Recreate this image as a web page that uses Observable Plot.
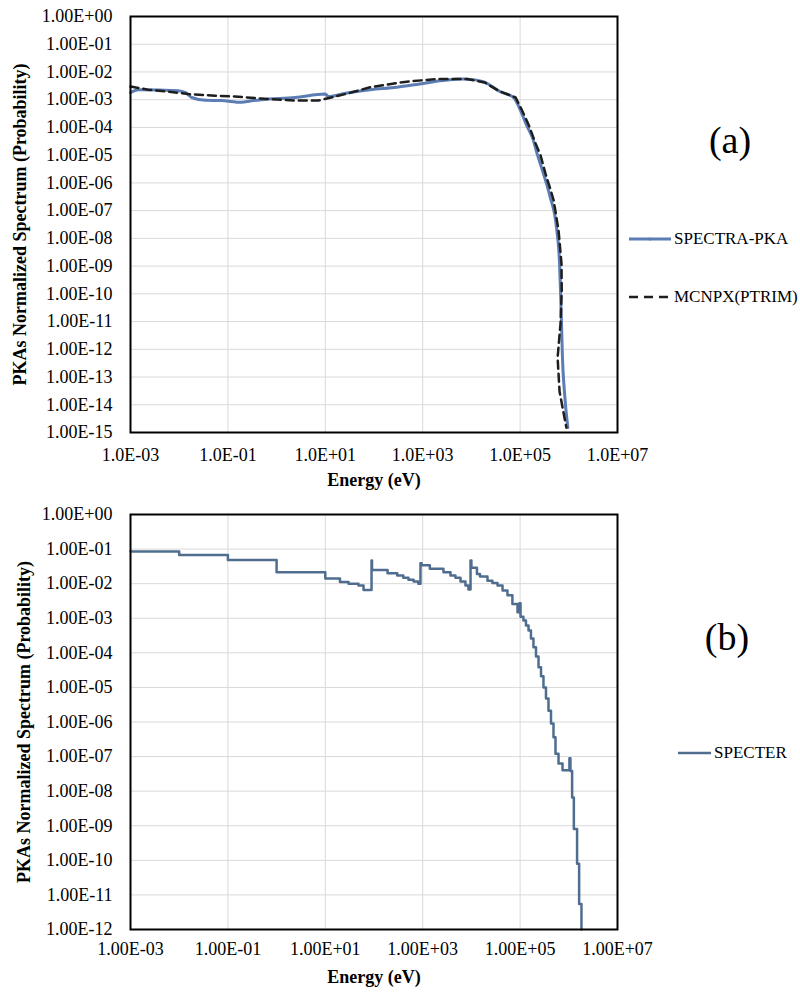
<!DOCTYPE html>
<html>
<head>
<meta charset="utf-8">
<script src="https://cdn.jsdelivr.net/npm/d3@7"></script>
<script src="https://cdn.jsdelivr.net/npm/@observablehq/plot@0.6"></script>
<style>
  body { margin: 0; background: #fff; }
  #wrap { position: relative; width: 800px; height: 992px; font-family: "Liberation Serif", "DejaVu Serif", "Times New Roman", serif; color: #000; }
  .panel { position: absolute; left: 0; }
  .panel svg text { font-family: "Liberation Serif", "DejaVu Serif", "Times New Roman", serif; }
  .leg { position: absolute; font-size: 17px; line-height: 18px; white-space: nowrap; display: flex; align-items: center; }
  .leg svg { display: block; margin-right: 3px; }
  .tag { position: absolute; font-size: 38px; line-height: 38px; transform: translate(-50%, -50%); }
</style>
</head>
<body>
<div id="wrap">
  <div class="panel" id="pa" style="top:0"></div>
  <div class="panel" id="pb" style="top:495px"></div>
  <div class="leg" style="left:629px; top:230px;">
    <svg width="42" height="18"><line x1="0" y1="9" x2="42" y2="9" stroke="#5b7db3" stroke-width="3"/><circle cx="21" cy="9" r="1.5" fill="#5b7db3"/></svg>SPECTRA-PKA
  </div>
  <div class="leg" style="left:629px; top:288px;">
    <svg width="42" height="18"><line x1="0" y1="9" x2="42" y2="9" stroke="#1e1e1e" stroke-width="2.5" stroke-dasharray="9,6"/></svg>MCNPX(PTRIM)
  </div>
  <div class="tag" style="left:730px; top:140px;">(a)</div>
  <div class="leg" style="left:678px; top:744px;">
    <svg width="33" height="18"><line x1="0" y1="9" x2="33" y2="9" stroke="#4f6d8f" stroke-width="2.5"/></svg>SPECTER
  </div>
  <div class="tag" style="left:727px; top:637px;">(b)</div>
</div>
<script>
// ---------- Panel (a) data ----------
const spectraE = [1e-3, 1.45e-3, 9.5e-3, 1.35e-2, 1.8e-2, 3.5e-2, 7.2e-2, 0.19, 0.29, 0.48, 2.4, 10, 11.5, 26, 83, 295, 870, 2570, 6600, 10700, 18600, 38000, 74000, 98000, 136000, 182000, 229000, 288000, 407000, 562000, 646000, 676000, 708000, 741000, 813000, 955000];
const spectraV = [1.8e-3, 2.3e-3, 2.1e-3, 1.8e-3, 1.2e-3, 9.5e-4, 9.3e-4, 8.1e-4, 9.0e-4, 1.0e-3, 1.2e-3, 1.6e-3, 1.3e-3, 1.7e-3, 2.3e-3, 2.8e-3, 3.7e-3, 4.9e-3, 5.6e-3, 5.3e-3, 4.3e-3, 2.0e-3, 1.2e-3, 4.8e-4, 1.2e-4, 4.0e-5, 9.8e-6, 2.8e-6, 3.5e-7, 2.3e-8, 1.2e-9, 1.3e-10, 8.5e-12, 5e-13, 3e-14, 1.5e-15];

const mcnpxE = [1e-3, 2.3e-3, 6.9e-3, 1.55e-2, 5.5e-2, 0.14, 0.48, 2.4, 7.1, 26, 83, 390, 1950, 8100, 18600, 38000, 81000, 107000, 151000, 209000, 263000, 331000, 427000, 490000, 617000, 708000, 716000, 676000, 589000, 646000, 891000];
const mcnpxV = [3.0e-3, 2.3e-3, 1.9e-3, 1.6e-3, 1.4e-3, 1.3e-3, 1.1e-3, 9.3e-4, 9.3e-4, 1.6e-3, 2.8e-3, 4.3e-3, 5.6e-3, 5.6e-3, 4.2e-3, 2.0e-3, 1.2e-3, 4.5e-4, 1.2e-4, 2.6e-5, 9.8e-6, 2.2e-6, 5.3e-7, 2.3e-7, 1.9e-8, 1.2e-9, 1.3e-10, 8.5e-12, 5e-13, 3e-14, 1.5e-15];

const xTickLabelsA = ["1.0E-03", "1.0E-01", "1.0E+01", "1.0E+03", "1.0E+05", "1.0E+07"];
const yTickLabelsA = ["1.00E+00", "1.00E-01", "1.00E-02", "1.00E-03", "1.00E-04", "1.00E-05", "1.00E-06", "1.00E-07", "1.00E-08", "1.00E-09", "1.00E-10", "1.00E-11", "1.00E-12", "1.00E-13", "1.00E-14", "1.00E-15"];

// ---------- Panel (b) data ----------
const specterE = [1e-3, 1e-2, 0.1, 1, 10, 20, 30, 48, 61, 89, 91, 190, 300, 400, 510, 650, 815, 900, 950, 1400, 2670, 3720, 4700, 5970, 7550, 8700, 9600, 10000, 13000, 15000, 21400, 27000, 34400, 43600, 55000, 69500, 88500, 97300, 102000, 117000, 132000, 149000, 167000, 188000, 212000, 239000, 269000, 302000, 340000, 383000, 431000, 485000, 533000, 615000, 743000, 1030000, 1080000, 1170000, 1270000, 1480000, 1630000, 1820000];
const specterV = [0.085, 0.068, 0.048, 0.0215, 0.0142, 0.0112, 0.0100, 0.0089, 0.0066, 0.047, 0.025, 0.020, 0.0172, 0.0148, 0.0129, 0.0115, 0.0099, 0.039, 0.034, 0.027, 0.0214, 0.0172, 0.0148, 0.0115, 0.0089, 0.0068, 0.047, 0.029, 0.019, 0.016, 0.0122, 0.0105, 0.0089, 0.0063, 0.0046, 0.0026, 0.0015, 0.0027, 0.0011, 8.6e-4, 6.2e-4, 4.4e-4, 2.6e-4, 1.45e-4, 7.8e-5, 3.8e-5, 2.1e-5, 1.0e-5, 4.8e-6, 2.1e-6, 9.0e-7, 3.6e-7, 1.2e-7, 6.3e-8, 4.0e-8, 9e-8, 3.8e-8, 6.6e-9, 8.1e-10, 7.9e-11, 5.5e-12, 1e-12];

const xTickLabelsB = ["1.00E-03", "1.00E-01", "1.00E+01", "1.00E+03", "1.00E+05", "1.00E+07"];
const yTickLabelsB = ["1.00E+00", "1.00E-01", "1.00E-02", "1.00E-03", "1.00E-04", "1.00E-05", "1.00E-06", "1.00E-07", "1.00E-08", "1.00E-09", "1.00E-10", "1.00E-11", "1.00E-12"];

const yTitle = "PKAs Normalized Spectrum (Probability)";
const xTitle = "Energy (eV)";

// ---------- build ----------
const zip = (E, V, s) => E.map((e, i) => ({E: e, V: V[i], s}));
const fmtFrom = (labels) => { const m = new Map(labels.map(l => [Number(l), l])); return d => m.get(d); };
const serif = '"Liberation Serif", "DejaVu Serif", "Times New Roman", serif';

function panel({lines, xLabels, yLabels, height, mTop, mBottom, xPad, yTitleDx}) {
  const xt = xLabels.map(Number), yt = yLabels.map(Number);
  return Plot.plot({
    width: 800, height,
    marginLeft: 130, marginRight: 183, marginTop: mTop, marginBottom: mBottom,
    style: `font-family: ${serif}; font-size: 18px; color: #000; background: #fff; overflow: visible;`,
    x: {type: "log", domain: [xt[0], xt[xt.length - 1]]},
    y: {type: "log", domain: [yt[yt.length - 1], yt[0]]},
    marks: [
      Plot.gridX(xt, {stroke: "#d9d9d9", strokeOpacity: 1, strokeWidth: 1}),
      Plot.gridY(yt, {stroke: "#d9d9d9", strokeOpacity: 1, strokeWidth: 1}),
      ...lines,
      Plot.frame({stroke: "#000", strokeWidth: 2}),
      Plot.axisX(xt, {tickSize: 0, tickPadding: xPad, tickFormat: fmtFrom(xLabels), label: null, fontSize: 18}),
      Plot.axisY(yt, {tickSize: 0, tickPadding: 18, tickFormat: fmtFrom(yLabels), label: null, fontSize: 18}),
      Plot.text([yTitle], {frameAnchor: "left", textAnchor: "middle", lineAnchor: "middle", rotate: -90, dx: yTitleDx, fontWeight: "bold", fontSize: 18}),
      Plot.text([xTitle], {frameAnchor: "bottom", textAnchor: "middle", lineAnchor: "middle", dy: 48, fontWeight: "bold", fontSize: 18})
    ]
  });
}

const dataA1 = zip(spectraE, spectraV, "SPECTRA-PKA");
const dataA2 = zip(mcnpxE, mcnpxV, "MCNPX(PTRIM)");
const chartA = panel({
  xLabels: xTickLabelsA, yLabels: yTickLabelsA, height: 495, mTop: 16, mBottom: 63, xPad: 16, yTitleDx: -110,
  lines: [
    Plot.line(dataA1, {x: "E", y: "V", stroke: "#5b7db3", strokeWidth: 3, curve: "monotone-x"}),
    Plot.line(dataA2, {x: "E", y: "V", stroke: "#1e1e1e", strokeWidth: 2.5, strokeDasharray: "8,5", curve: "linear"})
  ]
});
document.getElementById("pa").appendChild(chartA);

const dataB = zip(specterE, specterV, "SPECTER");
const chartB = panel({
  xLabels: xTickLabelsB, yLabels: yTickLabelsB, height: 497, mTop: 19, mBottom: 63, xPad: 13, yTitleDx: -106,
  lines: [
    Plot.line(dataB, {x: "E", y: "V", stroke: "#4f6d8f", strokeWidth: 2.5, curve: "step-after"})
  ]
});
document.getElementById("pb").appendChild(chartB);
</script>
</body>
</html>
